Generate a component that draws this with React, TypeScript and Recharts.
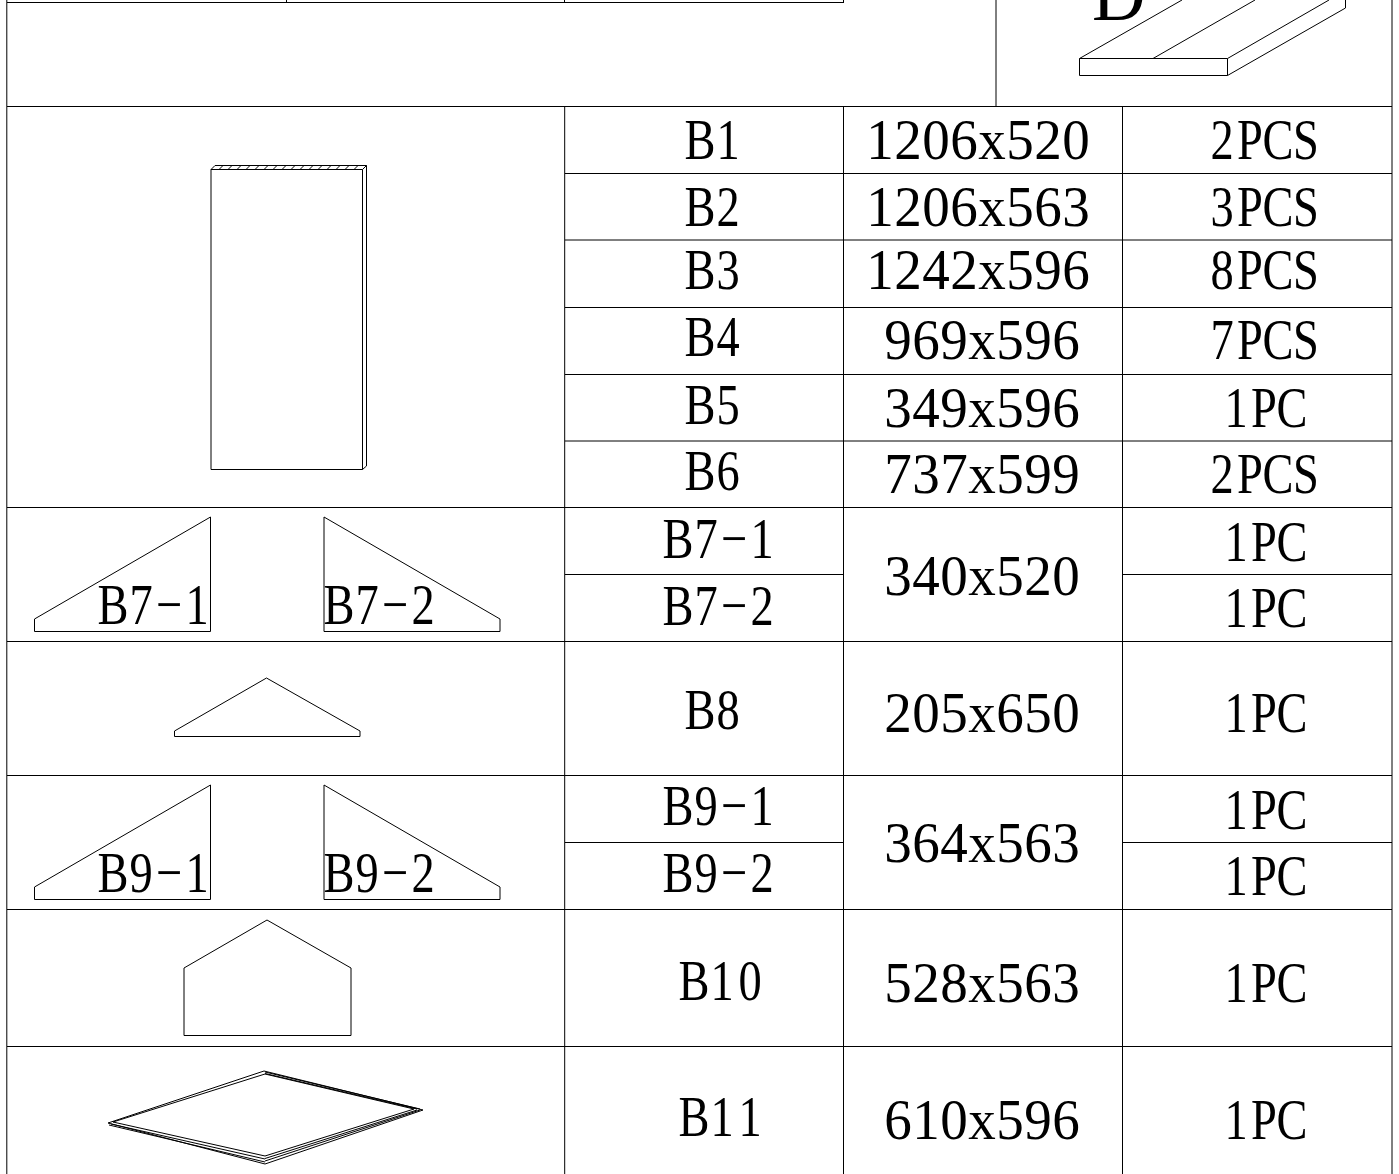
import React from "react";
import { ComposedChart, Line, Scatter, XAxis, YAxis } from "recharts";

type Pair = [number, number];

// drawing units = sheet pixels, everything goes through the chart's axes
const gridVertical: Pair[][] = [
    [[6.8, 0], [6.8, 1174]],
    [[1392, 0], [1392, 1174]],
    [[564.7, 107], [564.7, 1174]],
    [[843.5, 107], [843.5, 1174]],
    [[1122.5, 107], [1122.5, 1174]],
    [[996, 0], [996, 107]],
    [[286.5, 0], [286.5, 2]],
    [[564.5, 0], [564.5, 2]],
    [[843.5, 0], [843.5, 2]],
];

const gridHorizontal: Pair[][] = [
    [[7, 2.5], [844, 2.5]],
    [[7, 106.5], [1392, 106.5]],
    [[565, 173.5], [1392, 173.5]],
    [[565, 240], [1392, 240]],
    [[565, 307.5], [1392, 307.5]],
    [[565, 374.5], [1392, 374.5]],
    [[565, 441], [1392, 441]],
    [[7, 507.5], [1392, 507.5]],
    [[565, 574.5], [843, 574.5]],
    [[1122, 574.5], [1392, 574.5]],
    [[7, 641.5], [1392, 641.5]],
    [[7, 775.5], [1392, 775.5]],
    [[565, 842.5], [843, 842.5]],
    [[1122, 842.5], [1392, 842.5]],
    [[7, 909.5], [1392, 909.5]],
    [[7, 1046.5], [1392, 1046.5]],
];

const boardTop: Pair[][] = [
    [[1079.5, 58.5], [1227.5, 58.5], [1227.5, 75.5], [1079.5, 75.5], [1079.5, 58.5]],
    [[1079.5, 58.5], [1182, 0]],
    [[1153, 58.5], [1255, 0]],
    [[1227.5, 58.5], [1329, 0]],
    [[1227.5, 75.5], [1345.5, 8], [1345.5, 0]],
];

const panelB1: Pair[][] = [
    [[211, 469.5], [211, 169.5], [362.5, 169.5], [362.5, 469.5], [211, 469.5]],
    [[211, 169.5], [215, 165.5], [366.5, 165.5], [366.5, 466], [362.5, 469.5]],
    [[362.5, 169.5], [366.5, 165.5]],
];

const hatchStarts = [219, 228, 237, 246, 255, 264, 273, 282, 291, 300, 309, 318, 327, 336, 345, 354];

const triangles: Pair[][] = [
    [[34.5, 631.5], [34.5, 619], [210.5, 517], [210.5, 631.5], [34.5, 631.5]],
    [[324, 517], [500, 619], [500, 631.5], [324, 631.5], [324, 517]],
    [[174.5, 736.5], [174.5, 731], [266.5, 678], [360, 731], [360, 736.5], [174.5, 736.5]],
    [[34.5, 899.5], [34.5, 887], [210.5, 785], [210.5, 899.5], [34.5, 899.5]],
    [[324, 785], [500, 887], [500, 899.5], [324, 899.5], [324, 785]],
    [[184, 1035.5], [184, 968], [267, 920], [351, 968], [351, 1035.5], [184, 1035.5]],
];

const panelB11: Pair[][] = [
    [[108, 1123], [264, 1071], [423, 1110], [265, 1164], [108, 1123]],
    [[113, 1122], [265, 1074], [414, 1109], [265, 1156], [113, 1122]],
    [[265, 1072], [420, 1109]],
    [[265, 1073.5], [417, 1109]],
    [[109, 1125], [265, 1162]],
    [[111, 1124], [265, 1159]],
    [[265, 1161], [420, 1110]],
    [[265, 1158.5], [417, 1110]],
];

const partNames = ["B1", "B2", "B3", "B4", "B5", "B6", "B7\u22121", "B7\u22122", "B8", "B9\u22121", "B9\u22122", "B10", "B11"];
const partNameX = [686, 686, 686, 686, 686, 686, 664, 664, 686, 664, 664, 680, 680];
const partNameY = [159, 226, 289, 356, 424, 490, 558, 625, 729, 825, 892, 1000, 1136];

const partSizes = ["1206x520", "1206x563", "1242x596", "969x596", "349x596", "737x599", "340x520", "205x650", "364x563", "528x563", "610x596"];
const partSizeX = [866, 866, 866, 884, 884, 884, 884, 884, 884, 884, 884];
const partSizeY = [159, 226, 289, 359, 427, 493, 595, 732, 862, 1002, 1139];

const partQty = ["2PCS", "3PCS", "8PCS", "7PCS", "1PC", "2PCS", "1PC", "1PC", "1PC", "1PC", "1PC", "1PC", "1PC"];
const partQtyX = [1208, 1208, 1208, 1208, 1222, 1208, 1222, 1222, 1222, 1222, 1222, 1222, 1222];
const partQtyY = [159, 226, 289, 359, 427, 493, 561, 627, 732, 829, 895, 1002, 1139];

const insetNames = ["B7\u22121", "B7\u22122", "B9\u22121", "B9\u22122"];
const insetX = [99, 325, 99, 325];
const insetY = [624, 624, 892, 892];

const hatch: Pair[][] = hatchStarts.map((x) => [[x, 169.5], [x + 4, 165.5]]);

const paths = [
    ...gridVertical,
    ...gridHorizontal,
    ...boardTop,
    ...panelB1,
    ...hatch,
    ...triangles,
    ...panelB11,
].map((pts) => pts.map(([x, y]) => ({ x, y })));

const toRows = (text: string[], xs: number[], ys: number[]) =>
    text.map((t, i) => ({ t, x: xs[i], y: ys[i] }));

const nameLabels = [...toRows(partNames, partNameX, partNameY), ...toRows(insetNames, insetX, insetY)];
const sizeLabels = toRows(partSizes, partSizeX, partSizeY);
const qtyLabels = toRows(partQty, partQtyX, partQtyY);
const sectionLabel = [{ t: "D", x: 1092, y: 20 }];

const FONT = '"Liberation Serif", serif';
const CELL = 28;

// half width cells like the CAD font: one text node, each glyph centred in its own slot
function cellText(squeeze: number) {
    return function CellText(props: any) {
        const { cx, cy, payload } = props;
        const chars = Array.from(payload.t as string);
        const xs = chars.map((_, i) => ((i + 0.5) * CELL) / squeeze).join(" ");
        return (
            <text
                transform={`translate(${cx},${cy}) scale(${squeeze},1)`}
                x={xs}
                textAnchor="middle"
                fontFamily={FONT}
                fontSize={58}
                fill="#000"
            >
                {payload.t}
            </text>
        );
    };
}

function SectionText(props: any) {
    const { cx, cy, payload } = props;
    return (
        <text x={cx} y={cy} fontFamily={FONT} fontSize={74} fill="#000">
            {payload.t}
        </text>
    );
}

const NameText = cellText(0.8);
const SizeText = cellText(0.95);
const QtyText = cellText(0.8);

export default function App() {
    return (
        <div style={{ position: "absolute", left: 0, top: 0, width: 1399, height: 1174, background: "#fff", overflow: "hidden" }}>
            <ComposedChart width={1399} height={1174} margin={{ top: 0, right: 0, bottom: 0, left: 0 }}>
                <XAxis type="number" dataKey="x" domain={[0, 1399]} hide />
                <YAxis type="number" dataKey="y" domain={[0, 1174]} reversed hide />
                {paths.map((pts, i) => (
                    <Line
                        key={i}
                        type="linear"
                        data={pts}
                        dataKey="y"
                        stroke="#000"
                        strokeWidth={1}
                        strokeLinejoin="miter"
                        dot={false}
                        activeDot={false}
                        legendType="none"
                        isAnimationActive={false}
                    />
                ))}
                <Scatter data={nameLabels} shape={<NameText />} isAnimationActive={false} />
                <Scatter data={sizeLabels} shape={<SizeText />} isAnimationActive={false} />
                <Scatter data={qtyLabels} shape={<QtyText />} isAnimationActive={false} />
                <Scatter data={sectionLabel} shape={<SectionText />} isAnimationActive={false} />
            </ComposedChart>
        </div>
    );
}
